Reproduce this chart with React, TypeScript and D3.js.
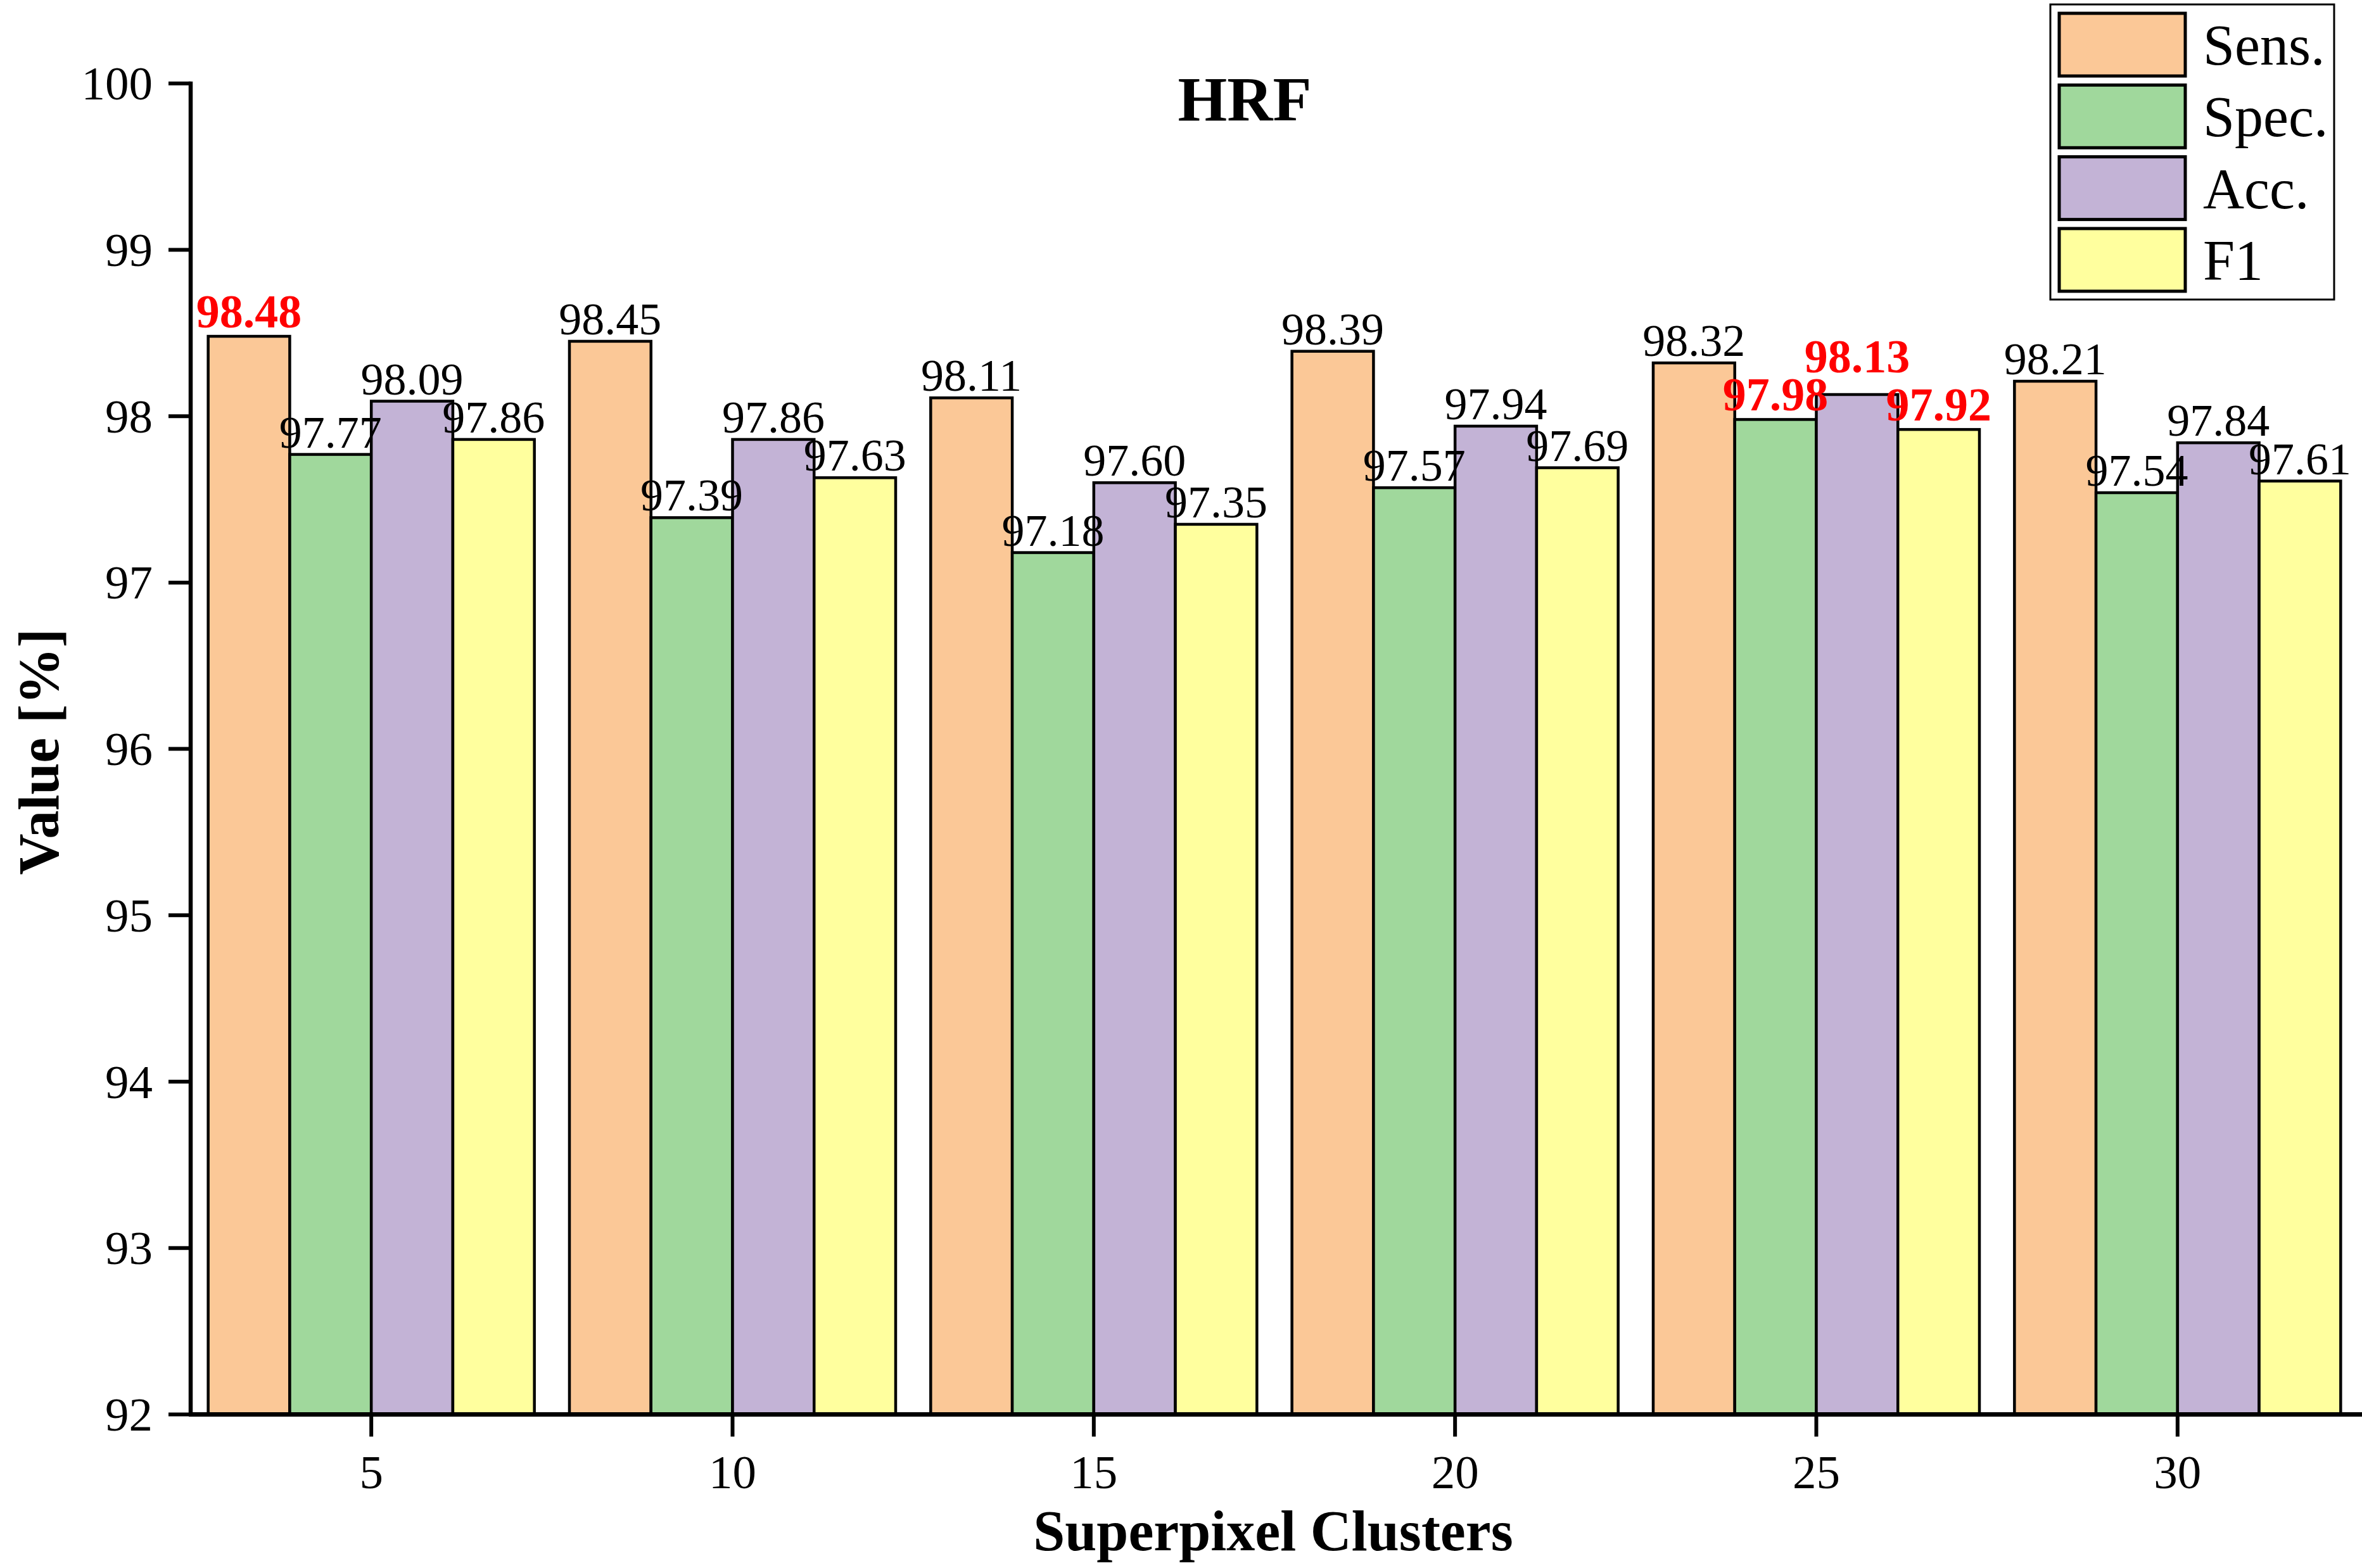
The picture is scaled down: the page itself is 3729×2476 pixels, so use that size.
import React, { useRef, useEffect } from 'react';
import * as d3 from 'd3';

const clusters = ['5', '10', '15', '20', '25', '30'];
const metrics = ['Sens.', 'Spec.', 'Acc.', 'F1'];
const colors = ['#FBC897', '#A0D89C', '#C3B3D6', '#FFFF9E'];
const sens = [98.48, 98.45, 98.11, 98.39, 98.32, 98.21];
const spec = [97.77, 97.39, 97.18, 97.57, 97.98, 97.54];
const acc = [98.09, 97.86, 97.6, 97.94, 98.13, 97.84];
const f1 = [97.86, 97.63, 97.35, 97.69, 97.92, 97.61];
// values shown in red bold in the original
const highlighted = [
  [true, false, false, false, false, false],
  [false, false, false, false, true, false],
  [false, false, false, false, true, false],
  [false, false, false, false, true, false]
];
const yTicks = [92, 93, 94, 95, 96, 97, 98, 99, 100];

const FONT = '"Times New Roman", "Liberation Serif", serif';

export default function App(): JSX.Element {
  const divRef = useRef<HTMLDivElement>(null);
  useEffect(() => {
    const divEle = divRef.current;
    if (divEle == null) {
      return;
    }
    document.body.style.margin = '0';
    d3.select(divEle).selectAll('*').remove();

    const width = 3729;
    const height = 2476;
    const left = 301;
    const right = 3723;
    const top = 131.7;
    const bottom = 2233.5;

    const svg = d3
      .select(divEle)
      .append('svg')
      .attr('width', width)
      .attr('height', height)
      .style('display', 'block')
      .style('background', '#ffffff');

    const x = d3
      .scaleBand()
      .domain(clusters)
      .range([left, right])
      .paddingInner(0.097)
      .paddingOuter(0.0485);
    const xSub = d3.scaleBand().domain(metrics).range([0, x.bandwidth()]);
    const y = d3.scaleLinear().domain([92, 100]).range([bottom, top]);

    const series = [sens, spec, acc, f1];
    const bars = metrics.flatMap((m, mi) =>
      clusters.map((c, ci) => ({
        cluster: c,
        metric: m,
        color: colors[mi],
        value: series[mi][ci],
        red: highlighted[mi][ci]
      }))
    );

    // 柱子
    svg
      .append('g')
      .selectAll('rect')
      .data(bars)
      .join('rect')
      .attr('x', (d) => (x(d.cluster) as number) + (xSub(d.metric) as number))
      .attr('y', (d) => y(d.value))
      .attr('width', xSub.bandwidth())
      .attr('height', (d) => y(92) - y(d.value))
      .attr('fill', (d) => d.color)
      .attr('stroke', '#000')
      .attr('stroke-width', 4.5);

    // 数值标签 (the red Acc. label sits higher so it clears its neighbour)
    svg
      .append('g')
      .selectAll('text')
      .data(bars)
      .join('text')
      .attr('x', (d) => (x(d.cluster) as number) + (xSub(d.metric) as number) + xSub.bandwidth() / 2)
      .attr('y', (d) => y(d.value) - (d.red && d.metric === 'Acc.' ? 35 : d.red ? 14 : 11))
      .attr('text-anchor', 'middle')
      .style('font-family', FONT)
      .style('font-size', (d) => (d.red ? '74px' : '72px'))
      .style('font-weight', (d) => (d.red ? 'bold' : 'normal'))
      .attr('fill', (d) => (d.red ? '#FF0000' : '#000'))
      .text((d) => d.value.toFixed(2));

    // y 轴
    const yAxis = svg.append('g');
    yAxis
      .append('line')
      .attr('x1', left)
      .attr('x2', left)
      .attr('y1', top - 3)
      .attr('y2', bottom)
      .attr('stroke', '#000')
      .attr('stroke-width', 6.5);
    yAxis
      .selectAll('line.tick')
      .data(yTicks)
      .join('line')
      .attr('class', 'tick')
      .attr('x1', left - 35)
      .attr('x2', left)
      .attr('y1', (d) => y(d))
      .attr('y2', (d) => y(d))
      .attr('stroke', '#000')
      .attr('stroke-width', 6);
    yAxis
      .selectAll('text')
      .data(yTicks)
      .join('text')
      .attr('x', 241)
      .attr('y', (d) => y(d))
      .attr('dy', '0.34em')
      .attr('text-anchor', 'end')
      .style('font-family', FONT)
      .style('font-size', '75px')
      .text((d) => d);

    // x 轴
    const xAxis = svg.append('g');
    xAxis
      .append('line')
      .attr('x1', left - 3)
      .attr('x2', width)
      .attr('y1', bottom)
      .attr('y2', bottom)
      .attr('stroke', '#000')
      .attr('stroke-width', 7);
    xAxis
      .selectAll('line.tick')
      .data(clusters)
      .join('line')
      .attr('class', 'tick')
      .attr('x1', (d) => (x(d) as number) + x.bandwidth() / 2)
      .attr('x2', (d) => (x(d) as number) + x.bandwidth() / 2)
      .attr('y1', bottom)
      .attr('y2', bottom + 35)
      .attr('stroke', '#000')
      .attr('stroke-width', 6);
    xAxis
      .selectAll('text')
      .data(clusters)
      .join('text')
      .attr('x', (d) => (x(d) as number) + x.bandwidth() / 2)
      .attr('y', 2350)
      .attr('text-anchor', 'middle')
      .style('font-family', FONT)
      .style('font-size', '75px')
      .text((d) => d);

    // 标题和轴标题
    svg
      .append('text')
      .attr('x', 1965)
      .attr('y', 190)
      .attr('text-anchor', 'middle')
      .style('font-family', FONT)
      .style('font-size', '100px')
      .style('font-weight', 'bold')
      .text('HRF');
    svg
      .append('text')
      .attr('x', 2010)
      .attr('y', 2448)
      .attr('text-anchor', 'middle')
      .style('font-family', FONT)
      .style('font-size', '90px')
      .style('font-weight', 'bold')
      .text('Superpixel Clusters');
    svg
      .append('text')
      .attr('transform', 'translate(92, 1187) rotate(-90)')
      .attr('text-anchor', 'middle')
      .style('font-family', FONT)
      .style('font-size', '90px')
      .style('font-weight', 'bold')
      .text('Value [%]');

    // 图例
    const legend = svg.append('g');
    legend
      .append('rect')
      .attr('x', 3237)
      .attr('y', 7)
      .attr('width', 448)
      .attr('height', 466)
      .attr('fill', '#fff')
      .attr('stroke', '#000')
      .attr('stroke-width', 3);
    const legendY = d3.scaleBand().domain(metrics).range([14, 14 + 4 * 113.3]);
    legend
      .selectAll('rect.swatch')
      .data(metrics)
      .join('rect')
      .attr('class', 'swatch')
      .attr('x', 3251)
      .attr('y', (d) => (legendY(d) as number) + 7)
      .attr('width', 199)
      .attr('height', 99)
      .attr('fill', (d, i) => colors[i])
      .attr('stroke', '#000')
      .attr('stroke-width', 5);
    legend
      .selectAll('text')
      .data(metrics)
      .join('text')
      .attr('x', 3478)
      .attr('y', (d) => (legendY(d) as number) + 7 + 49.5)
      .attr('dy', '0.35em')
      .style('font-family', FONT)
      .style('font-size', '90px')
      .text((d) => d);
  }, []);
  return <div ref={divRef} />;
}
